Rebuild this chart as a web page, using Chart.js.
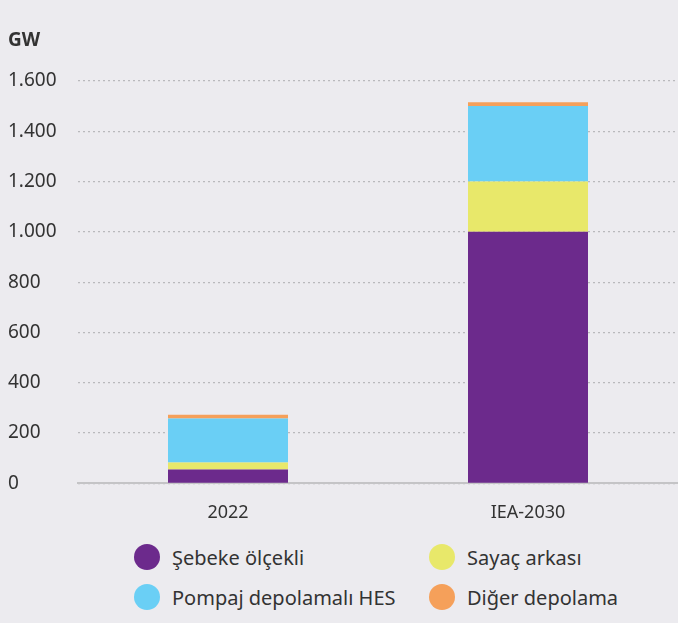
<!DOCTYPE html>
<html>
<head>
<meta charset="utf-8">
<script src="https://cdn.jsdelivr.net/npm/chart.js@4"></script>
<style>
  html, body { margin: 0; padding: 0; background: #ecebef; }
  body { width: 678px; height: 623px; overflow: hidden; font-family: "Noto Sans", sans-serif; }
  #wrap { position: relative; width: 678px; height: 535px; }
  #legend { display: grid; grid-template-columns: 295px 240px; margin-left: 134px; margin-top: 8px; row-gap: 12px; }
  .item { display: flex; align-items: center; font-size: 20px; color: #333; height: 28px; }
  .dot { width: 26px; height: 26px; border-radius: 50%; margin-right: 12px; }
</style>
</head>
<body>
<div id="wrap"><canvas id="chart"></canvas></div>
<div id="legend"></div>
<script>
const categories = ['2022', 'IEA-2030'];
const gridScale = [55, 1000];
const behindMeter = [28, 200];
const pumpedHydro = [175, 300];
const otherStorage = [15, 15];
const seriesNames = ['Şebeke ölçekli', 'Sayaç arkası', 'Pompaj depolamalı HES', 'Diğer depolama'];
const seriesColors = ['#6c2a8c', '#e8e86a', '#6acff5', '#f5a05a'];
const yTicks = [0, 200, 400, 600, 800, 1000, 1200, 1400, 1600];

const seriesData = [gridScale, behindMeter, pumpedHydro, otherStorage];
const fontFamily = '"Noto Sans", sans-serif';

function fmt(v) {
    return v.toString().replace(/\B(?=(\d{3})+(?!\d))/g, '.');
}

const datasets = seriesData.map((d, i) => ({
    label: seriesNames[i],
    data: d,
    backgroundColor: seriesColors[i],
    borderWidth: 0,
    barPercentage: 1,
    categoryPercentage: 0.4
}));

// legend in two columns, order as in the picture
const legend = document.getElementById('legend');
seriesNames.forEach((name, i) => {
    const el = document.createElement('div');
    el.className = 'item';
    el.innerHTML = '<span class="dot" style="background:' + seriesColors[i] + '"></span>' + name;
    legend.appendChild(el);
});

const ctx = document.getElementById('chart').getContext('2d');
new Chart(ctx, {
    type: 'bar',
    data: { labels: categories, datasets: datasets },
    options: {
        responsive: true,
        maintainAspectRatio: false,
        animation: false,
        layout: { padding: { left: 8, right: 0, top: 0, bottom: 0 } },
        plugins: {
            legend: { display: false },
            tooltip: { enabled: false },
            title: {
                display: true,
                text: 'GW',
                align: 'start',
                color: '#333',
                font: { family: fontFamily, size: 19, weight: 'bold' },
                padding: { top: 29, bottom: 29 }
            }
        },
        scales: {
            x: {
                stacked: true,
                grid: { display: false },
                border: { display: true, color: '#c4c4c6', width: 2 },
                ticks: {
                    color: '#333',
                    padding: 11,
                    font: { family: fontFamily, size: 18 }
                }
            },
            y: {
                stacked: true,
                min: 0,
                max: 1600,
                afterBuildTicks: axis => { axis.ticks = yTicks.map(v => ({ value: v })); },
                afterFit: axis => { axis.width = 70; },
                border: { display: false, dash: [2, 3] },
                grid: {
                    color: '#b9b9bc',
                    lineWidth: 1.2,
                    drawTicks: false
                },
                ticks: {
                    color: '#333',
                    padding: 14,
                    crossAlign: 'far',
                    font: { family: fontFamily, size: 19 },
                    callback: v => fmt(v)
                }
            }
        }
    }
});
</script>
</body>
</html>
